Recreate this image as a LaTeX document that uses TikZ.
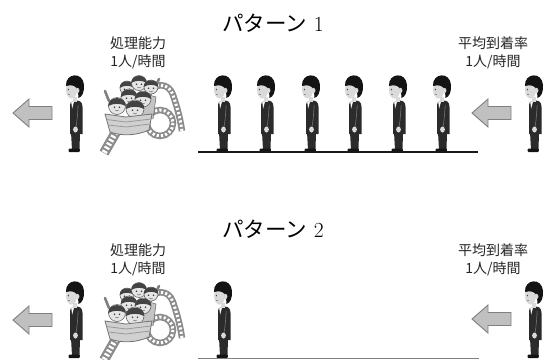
\documentclass[tikz,border=0pt]{standalone}
\usepackage{fontspec}
\newfontfamily\jpfont{Noto Sans CJK JP}
\definecolor{suitcol}{HTML}{2B2B2B}
\definecolor{haircol}{HTML}{141414}
\definecolor{skincol}{HTML}{DADADA}
\definecolor{railcol}{HTML}{8C8C8C}
\definecolor{carcol}{HTML}{C4C4C4}
\definecolor{arrowfill}{HTML}{C0C0C0}
\definecolor{arrowline}{HTML}{808080}
\tikzset{
  title/.style={font=\fontsize{21.5bp}{24bp}\selectfont, inner sep=0pt},
  label/.style={font=\jpfont\fontsize{14bp}{17.5bp}\selectfont, align=center, inner sep=0pt, text=black!85},
  rail/.style={draw=railcol, line width=#1, line cap=butt},
  ties/.style={draw=white, line width=#1, dash pattern=on 2.2bp off 2.1bp},
  flowarrow/.style={fill=arrowfill, draw=arrowline, line width=0.9bp, line join=miter},
  % standing man seen from the side, facing left; origin at the feet
  person/.pic={
    \fill[suitcol] (-5,-20) -- (4,-20) -- (3.5,-2) -- (-4,-2) -- cycle;
    \fill[haircol, rounded corners=1bp] (-7.5,-3.4) rectangle (3.8,0);
    \fill[suitcol] (-6,-18) -- (6.5,-18) -- (6.5,-45)
      .. controls (6.5,-50) and (4,-51.5) .. (0,-51.5) -- (-2,-51.5)
      .. controls (-5,-51.5) and (-6,-49) .. (-6,-45) -- cycle;
    \fill[white] (-4.8,-50.2) -- (-1.8,-51.2) -- (-3.8,-43.5) -- cycle;
    \draw[black!55, line width=0.6bp] (2.2,-47) .. controls (1.6,-38) and (1,-30) .. (0,-25);
    \fill[skincol] (-0.5,-22.5) ellipse (2.4 and 3);
    \fill[skincol] (-3.5,-55) rectangle (1,-50.5);
    \fill[skincol] (-4.5,-62) ellipse (5.5 and 8.5);
    \fill[haircol] (-10,-66) .. controls (-11,-79) and (7,-81) .. (8,-67)
      .. controls (8.5,-60) and (6,-55) .. (2.5,-54) -- (2,-61)
      .. controls (1,-66) and (-4,-68) .. (-10,-66) -- cycle;
    \fill[skincol] (1.6,-61.5) ellipse (1.8 and 2.6);
    \fill[black!70] (-7.6,-62.5) ellipse (0.6 and 1.0);
    \draw[black!45, line width=0.5bp] (-8.5,-57.5) -- (-6.5,-57.5);
  },
  % rider head inside the coaster car
  rider/.pic={
    \fill[skincol!70!white] (0,0) circle (#1);
    \draw[black!60, line width=0.6bp] (0,0) circle (#1);
    \fill[haircol!80] (-#1-0.3,0) .. controls (-#1-0.5,-#1-2) and (#1+0.5,-#1-2) .. (#1+0.3,0)
      .. controls (3,-3) and (-3,-3) .. cycle;
    \fill[black!75] (-2.5,1.3) circle (0.9) (2.5,1.3) circle (0.9);
    \draw[black!60, line width=0.5bp] (-1.8,4) .. controls (-0.6,5.3) and (0.6,5.3) .. (1.8,4);
  },
  rider/.default=7,
  % roller coaster with riders; origin at the upper left corner
  coaster/.pic={
    % loop and upper track
    \draw[rail=6.5bp] (60,46) circle (13);
    \draw[ties=3bp] (60,46) circle (13);
    \draw[rail=6.5bp] (48,18) .. controls (53,5) and (69,5) .. (73,18)
      .. controls (77,30) and (80,40) .. (82,54);
    \draw[ties=3bp] (48,18) .. controls (53,5) and (69,5) .. (73,18)
      .. controls (77,30) and (80,40) .. (82,54);
    % lower track
    \draw[rail=10bp] (16,55) -- (4,76);
    \draw[ties=5.5bp] (16,55) -- (4,76);
    % side of the car behind the riders
    \fill[carcol] (42,16) -- (56,20) -- (53,42) -- (40,42) -- cycle;
    \draw[black!55, line width=0.6bp] (42,16) -- (56,20) -- (53,42);
    % raised arms
    \draw[black!50, line width=2.6bp, line cap=round] (9,24) -- (5,14);
    \draw[black!50, line width=2.6bp, line cap=round] (55,10) -- (59,2);
    % riders, back rows first
    \pic at (27,11) {rider=7};
    \pic at (39,6) {rider=7.5};
    \pic at (51,10) {rider=7};
    \pic at (29,20) {rider=8};
    \pic at (43,22) {rider=8};
    \pic at (17,29) {rider=8.5};
    \pic at (35,32) {rider=9};
    % front of the car
    \fill[carcol!80!white] (5,37) -- (26,40) -- (52,37) -- (49,53)
      .. controls (36,59) and (21,59) .. (10,55) -- cycle;
    \draw[black!55, line width=0.8bp] (5,37) -- (26,40) -- (52,37) -- (49,53)
      .. controls (36,59) and (21,59) .. (10,55) -- cycle;
    \draw[black!40, line width=0.8bp] (6.5,42.5) -- (26,45) -- (51,42);
    \draw[black!40, line width=0.8bp] (8,48) -- (26,50) -- (50,47);
  },
  leftarrow/.pic={
    \draw[flowarrow] (0,0) -- (16,-14) -- (16,-6.5) -- (39,-6.5) -- (39,6.5)
      -- (16,6.5) -- (16,14) -- cycle;
  }
}
\begin{document}
\begin{tikzpicture}[x=1bp, y=-1bp]
\useasboundingbox (0,0) rectangle (551,359);
\fill[white] (0,0) rectangle (551,359);

% ---------- pattern 1 ----------
\node[title] (t1) at (273,23) {{\jpfont パターン} 1};
\node[label] (cap1) at (138,53) {処理能力\\1人/時間};
\node[label] (arr1) at (493,53) {平均到着率\\1人/時間};
\pic (exit1) at (13,113) {leftarrow};
\pic (in1) at (472,113) {leftarrow};
\pic (served1) at (76,152) {person};
\pic (ride1) at (100,77) {coaster};
\foreach \qx [count=\i] in {224,267,312,355,399,443}
  \pic (q1\i) at (\qx,152) {person};
\pic (new1) at (535,152) {person};
\coordinate (g1a) at (198,152);
\coordinate (g1b) at (478,152);
\draw[black!90, line width=2bp] (g1a) -- (g1b);

% ---------- pattern 2 ----------
\node[title] (t2) at (273,229) {{\jpfont パターン} 2};
\node[label] (cap2) at (138,260) {処理能力\\1人/時間};
\node[label] (arr2) at (493,260) {平均到着率\\1人/時間};
\pic (exit2) at (13,320) {leftarrow};
\pic (in2) at (472,319) {leftarrow};
\pic (served2) at (76,358) {person};
\pic (ride2) at (100,284) {coaster};
\pic (q21) at (224,358) {person};
\pic (new2) at (535,358) {person};
\coordinate (g2a) at (198,358);
\coordinate (g2b) at (479,358);
\draw[black!50, line width=1bp] (g2a) -- (g2b);
\end{tikzpicture}
\end{document}
